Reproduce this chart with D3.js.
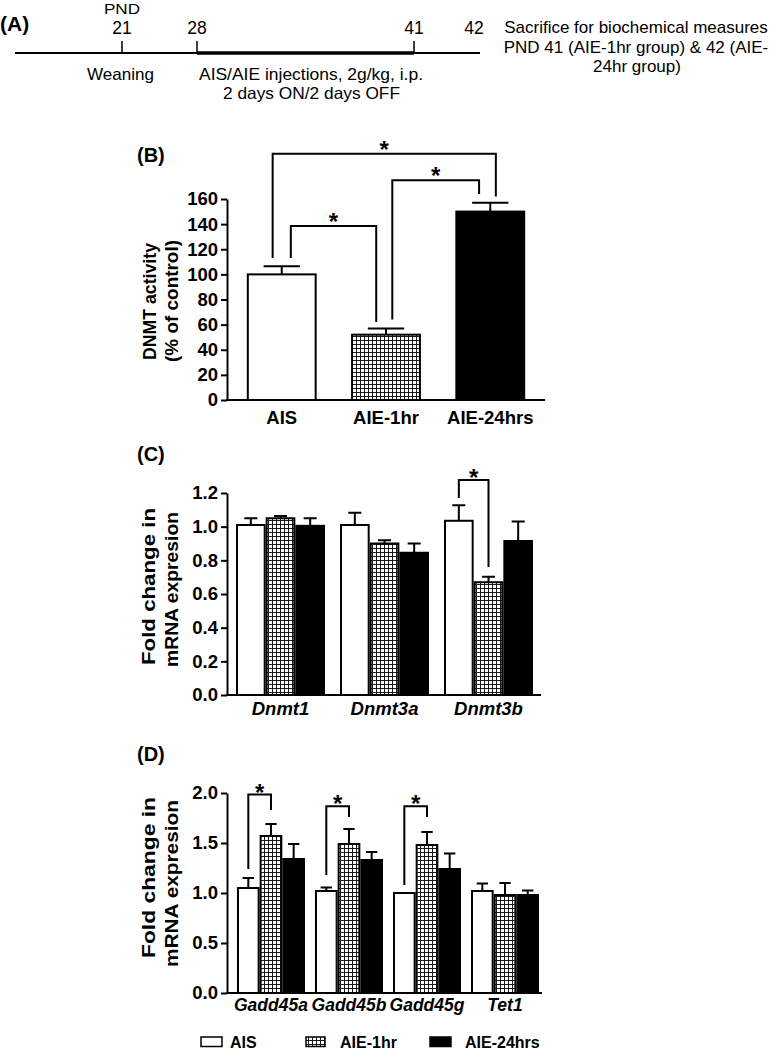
<!DOCTYPE html>
<html><head><meta charset="utf-8">
<script src="https://cdn.jsdelivr.net/npm/d3@7"></script>
<style>
html,body{margin:0;padding:0;background:#fff;}
svg{display:block;}
</style></head><body>
<svg id="chart" width="774" height="1050"></svg>
<script>
// ---------- DATA ----------
// Panel A timeline (postnatal days)
const timelineDays = [21, 28, 41, 42];
const timelineTicks = [21, 28, 41];
const injectionSpan = [28, 41];

// Panel B: DNMT activity (% of control)
const groups = ["AIS", "AIE-1hr", "AIE-24hrs"];
const dnmtActivity = [100, 52, 150];
const dnmtActivityErr = [6.5, 5, 7];
const ticksB = [0, 20, 40, 60, 80, 100, 120, 140, 160];

// Panel C: fold change in mRNA expression (DNMTs)
const genesC = ["Dnmt1", "Dnmt3a", "Dnmt3b"];
const aisC = [1.01, 1.01, 1.035];
const aisCErr = [0.04, 0.073, 0.092];
const aie1C = [1.05, 0.90, 0.67];
const aie1CErr = [0.013, 0.02, 0.033];
const aie24C = [1.005, 0.845, 0.915];
const aie24CErr = [0.045, 0.055, 0.115];
const ticksC = [0, 0.2, 0.4, 0.6, 0.8, 1.0, 1.2];

// Panel D: fold change in mRNA expression (Gadd45 / Tet1)
const genesD = ["Gadd45a", "Gadd45b", "Gadd45g", "Tet1"];
const aisD = [1.05, 1.02, 1.0, 1.02];
const aisDErr = [0.10, 0.035, 0.0, 0.075];
const aie1D = [1.57, 1.49, 1.48, 0.98];
const aie1DErr = [0.12, 0.15, 0.13, 0.12];
const aie24D = [1.34, 1.33, 1.24, 0.98];
const aie24DErr = [0.15, 0.08, 0.155, 0.045];
const ticksD = [0, 0.5, 1.0, 1.5, 2.0];

// significance annotations (data units)
const sigB = [
  {a: "AIS", b: "AIE-24hrs", level: 196, endA: 113, endB: 162, offA: -0.13, offB: 0.08},
  {a: "AIE-1hr", b: "AIE-24hrs", level: 175, endA: 64, endB: 164, offA: 0.09, offB: -0.16},
  {a: "AIS", b: "AIE-1hr", level: 138.5, endA: 113, endB: 62, offA: 0.13, offB: -0.14}
];
const sigC = [{cat: "Dnmt3b", level: 1.277, endA: 1.17, endB: 0.76}];
const sigD = [
  {cat: "Gadd45a", level: 1.984, endA: 1.24, endB: 1.83},
  {cat: "Gadd45b", level: 1.867, endA: 1.18, endB: 1.76},
  {cat: "Gadd45g", level: 1.867, endA: 1.08, endB: 1.76}
];

// ---------- DRAWING ----------
const FONT = '"Liberation Sans", Arial, Helvetica, sans-serif';
const svg = d3.select("#chart").attr("font-family", FONT);
const defs = svg.append("defs");
const pat = defs.append("pattern").attr("id", "grid")
  .attr("patternUnits", "userSpaceOnUse").attr("width", 4).attr("height", 4);
pat.append("rect").attr("width", 4).attr("height", 4).attr("fill", "#fff");
pat.append("path").attr("d", "M0,0.5H4M0.5,0V4").attr("stroke", "#1a1a1a")
  .attr("stroke-width", 1).attr("fill", "none");

const fills = {"AIS": "#fff", "AIE-1hr": "url(#grid)", "AIE-24hrs": "#000"};

function text(g, s, x, y, o = {}) {
  const t = g.append("text").attr("x", x).attr("y", y).text(s)
    .attr("fill", "#000")
    .attr("font-size", o.size || 16)
    .attr("font-weight", o.bold ? "bold" : "normal")
    .attr("font-style", o.italic ? "italic" : "normal")
    .attr("text-anchor", o.anchor || "middle");
  if (o.len) t.attr("textLength", o.len).attr("lengthAdjust", "spacingAndGlyphs");
  if (o.rot) t.attr("transform", `rotate(-90,${x},${y})`);
  return t;
}

function styleAxis(g) {
  g.select(".domain").attr("stroke", "#000").attr("stroke-width", 2);
  g.selectAll(".tick line").attr("stroke", "#000").attr("stroke-width", 2);
  g.selectAll(".tick text").attr("fill", "#000").attr("font-size", 18.5)
    .attr("font-weight", "bold").attr("font-family", FONT);
}

// ----- Panel A -----
(function () {
  const g = svg.append("g");
  const tx = d3.scaleLinear().domain(timelineDays).range([122, 197, 414, 474]);
  const lineY = 53;
  g.append("line").attr("x1", 15).attr("x2", 480).attr("y1", lineY).attr("y2", lineY)
    .attr("stroke", "#000").attr("stroke-width", 2);
  g.append("line").attr("x1", tx(injectionSpan[0])).attr("x2", tx(injectionSpan[1]))
    .attr("y1", lineY).attr("y2", lineY).attr("stroke", "#000").attr("stroke-width", 3.5);
  g.selectAll("line.tk").data(timelineTicks).join("line").attr("class", "tk")
    .attr("x1", d => tx(d)).attr("x2", d => tx(d)).attr("y1", lineY - 12).attr("y2", lineY)
    .attr("stroke", "#000").attr("stroke-width", 1.5);
  timelineDays.forEach(d => text(g, String(d), tx(d), 34, {size: 17.5}));
  text(g, "PND", tx(21), 14, {size: 15, len: 36});
  text(g, "(A)", 0, 31, {size: 21, bold: true, anchor: "start"});
  text(g, "Weaning", 120.5, 80, {size: 16.5, len: 67});
  text(g, "AIS/AIE injections, 2g/kg, i.p.", 311, 80, {size: 16.5, len: 224});
  text(g, "2 days ON/2 days OFF", 311.5, 99, {size: 16.5, len: 177});
  text(g, "Sacrifice for biochemical measures", 636, 33, {size: 17});
  text(g, "PND 41 (AIE-1hr group) & 42 (AIE-", 636, 52.5, {size: 17});
  text(g, "24hr group)", 637, 72, {size: 17});
})();

// ----- Panel B -----
(function () {
  const g = svg.append("g");
  const x = d3.scaleBand().domain(groups).range([227, 545]).paddingInner(0.33).paddingOuter(0.19).align(0.5);
  const y = d3.scaleLinear().domain([0, 160]).range([400, 199]);
  const bw = x.bandwidth();
  g.selectAll("rect.bar").data(groups).join("rect").attr("class", "bar")
    .attr("x", d => x(d) + 1).attr("width", bw - 2)
    .attr("y", (d, i) => y(dnmtActivity[i])).attr("height", (d, i) => y(0) - y(dnmtActivity[i]))
    .attr("fill", d => fills[d]).attr("stroke", "#000").attr("stroke-width", 2);
  groups.forEach((d, i) => {
    const cx = x(d) + bw / 2, top = y(dnmtActivity[i]), et = y(dnmtActivity[i] + dnmtActivityErr[i]);
    g.append("path").attr("d", `M${cx},${top}V${et}M${cx - bw * 0.26},${et}H${cx + bw * 0.26}`)
      .attr("stroke", "#000").attr("stroke-width", 2).attr("fill", "none");
  });
  const ax = g.append("g").attr("transform", "translate(227,0)")
    .call(d3.axisLeft(y).tickValues(ticksB).tickSize(6).tickPadding(3).tickSizeOuter(0));
  styleAxis(ax);
  g.append("line").attr("x1", 226).attr("x2", 545).attr("y1", y(0)).attr("y2", y(0))
    .attr("stroke", "#000").attr("stroke-width", 2);
  groups.forEach(d => text(g, d, x(d) + bw / 2, 424, {size: 18.5, bold: true}));
  sigB.forEach(s => {
    const xa = x(s.a) + bw / 2 + s.offA * bw, xb = x(s.b) + bw / 2 + s.offB * bw;
    g.append("path").attr("d", `M${xa},${y(s.endA)}V${y(s.level)}H${xb}V${y(s.endB)}`)
      .attr("stroke", "#000").attr("stroke-width", 2).attr("fill", "none");
    text(g, "*", (xa + xb) / 2, y(s.level) + 4, {size: 24, bold: true});
  });
  text(g, "(B)", 137, 162, {size: 20, bold: true, anchor: "start"});
  text(g, "DNMT activity", 156, 301.5, {size: 18, bold: true, rot: true, len: 117});
  text(g, "(% of control)", 178, 301, {size: 18, bold: true, rot: true, len: 122});
})();

// ----- grouped panels C and D -----
function groupedPanel(cfg) {
  const g = svg.append("g");
  const names = cfg.series.map(s => s.name);
  const x0 = d3.scaleBand().domain(cfg.cats).range(cfg.xRange)
    .paddingInner(cfg.pIn).paddingOuter(cfg.pOut).align(cfg.align);
  const x1 = d3.scaleBand().domain(names).range([0, x0.bandwidth()]);
  const y = d3.scaleLinear().domain(cfg.yDomain).range(cfg.yRange);
  const w = x1.bandwidth();
  cfg.series.forEach(s => {
    g.selectAll(null).data(cfg.cats).join("rect")
      .attr("x", d => x0(d) + x1(s.name) + 1).attr("width", w - 2)
      .attr("y", (d, i) => y(s.values[i])).attr("height", (d, i) => y(0) - y(s.values[i]))
      .attr("fill", fills[s.name]).attr("stroke", "#000").attr("stroke-width", 2);
  });
  cfg.series.forEach(s => {
    cfg.cats.forEach((c, i) => {
      if (!s.err[i]) return;
      const cx = x0(c) + x1(s.name) + w / 2, top = y(s.values[i]), et = y(s.values[i] + s.err[i]);
      g.append("path").attr("d", `M${cx},${top}V${et}M${cx - w * cfg.cap},${et}H${cx + w * cfg.cap}`)
        .attr("stroke", "#000").attr("stroke-width", 2).attr("fill", "none");
    });
  });
  const ax = g.append("g").attr("transform", `translate(${cfg.xRange[0]},0)`)
    .call(d3.axisLeft(y).tickValues(cfg.ticks).tickFormat(d3.format(".1f")).tickSize(6).tickPadding(3).tickSizeOuter(0));
  styleAxis(ax);
  g.append("line").attr("x1", cfg.xRange[0] - 1).attr("x2", cfg.xRange[1]).attr("y1", y(0)).attr("y2", y(0))
    .attr("stroke", "#000").attr("stroke-width", 2);
  cfg.cats.forEach(c => text(g, c, x0(c) + x0.bandwidth() / 2, cfg.labelY, {size: cfg.labelSize, bold: true, italic: true}));
  cfg.sig.forEach(s => {
    const xa = x0(s.cat) + x1(names[0]) + w / 2, xb = x0(s.cat) + x1(names[1]) + w / 2;
    g.append("path").attr("d", `M${xa},${y(s.endA)}V${y(s.level)}H${xb}V${y(s.endB)}`)
      .attr("stroke", "#000").attr("stroke-width", 2).attr("fill", "none");
    text(g, "*", (xa + xb) / 2, y(s.level) + 6, {size: 24, bold: true});
  });
  text(g, cfg.tag, 137, cfg.tagY, {size: 20, bold: true, anchor: "start"});
  text(g, "Fold change in", 155, cfg.lab1Y, {size: 18, bold: true, rot: true, len: cfg.lab1Len});
  text(g, "mRNA expresion", 178, cfg.lab2Y, {size: 18, bold: true, rot: true, len: cfg.lab2Len});
}

groupedPanel({
  cats: genesC,
  series: [
    {name: "AIS", values: aisC, err: aisCErr},
    {name: "AIE-1hr", values: aie1C, err: aie1CErr},
    {name: "AIE-24hrs", values: aie24C, err: aie24CErr}
  ],
  yDomain: [0, 1.2], yRange: [695, 493], ticks: ticksC,
  xRange: [227, 541], pIn: 0.144, pOut: 0.0817, align: 0.53,
  cap: 0.22, labelY: 715, labelSize: 18.5, sig: sigC,
  tag: "(C)", tagY: 461, lab1Y: 586.5, lab1Len: 157, lab2Y: 589.5, lab2Len: 155
});

groupedPanel({
  cats: genesD,
  series: [
    {name: "AIS", values: aisD, err: aisDErr},
    {name: "AIE-1hr", values: aie1D, err: aie1DErr},
    {name: "AIE-24hrs", values: aie24D, err: aie24DErr}
  ],
  yDomain: [0, 2.0], yRange: [993, 793], ticks: ticksD,
  xRange: [227, 542], pIn: 0.128, pOut: 0.083, align: 0.77,
  cap: 0.25, labelY: 1011, labelSize: 17.5, sig: sigD,
  tag: "(D)", tagY: 761, lab1Y: 877.5, lab1Len: 161, lab2Y: 883.5, lab2Len: 167
});

// ----- Legend -----
(function () {
  const g = svg.append("g");
  const legendLayout = [{x: 201, w: 21, tx: 230}, {x: 306, w: 19, tx: 340}, {x: 430, w: 21, tx: 465}];
  groups.forEach((name, i) => {
    const L = legendLayout[i];
    g.append("rect").attr("x", L.x).attr("y", 1037).attr("width", L.w).attr("height", 9.5)
      .attr("fill", fills[name]).attr("stroke", "#000").attr("stroke-width", 1.5);
    text(g, name, L.tx, 1047.5, {size: 16, bold: true, anchor: "start"});
  });
})();
</script>
</body></html>
